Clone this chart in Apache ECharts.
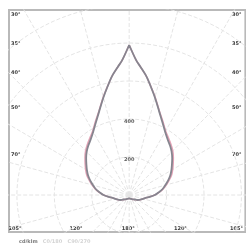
<!DOCTYPE html>
<html>
<head>
<meta charset="utf-8">
<script src="https://cdn.jsdelivr.net/npm/echarts@6/dist/echarts.min.js"></script>
<style>
  html, body { margin: 0; padding: 0; background: #fff; }
  #chart { width: 246px; height: 243px; }
</style>
</head>
<body>
<div id="chart"></div>
<script>
// polar intensity curve, angle from the upward axis (deg) and radius
const angles = [0, 3, 5, 8, 10, 15, 20, 25, 30, 35, 40, 45, 50, 55, 60, 65, 70, 75, 80, 85, 90, 95, 100, 110, 120, 130, 145, 160, 180];
const c0Values = [150, 135, 129, 121, 115, 101, 89, 80, 73, 68, 64.5, 61, 57, 53, 49.5, 46, 42, 38, 34.5, 30, 26, 21, 17, 13, 10, 7, 5, 4, 3.5];
const c90Values = [150, 135, 129, 121, 115, 101.5, 89.5, 81, 74, 69.5, 66, 62.5, 58.5, 54.5, 51, 47.5, 43, 39, 35, 30.5, 26, 21, 17, 13, 10, 7, 5, 4, 3.5];

// grid rings and spokes
const ringRadii = [38, 76, 114, 152, 190, 228, 266, 304];
const ringLabels = ['200', '400'];
const spokeAngles = [0, 15, 30, 45, 60, 75, 90, 105, 120, 135, 150, 165, 180, 195, 210, 225, 240, 255, 270, 285, 300, 315, 330, 345];

// frame tick labels
const sideTickPos = [180, 151, 122, 87, 40];
const sideTickText = ['30°', '35°', '40°', '50°', '70°'];
const bottomTickPos = [-116, -54, -1, 52, 109];
const bottomTickText = ['105°', '120°', '180°', '120°', '105°'];

const rad = d => d * Math.PI / 180;

function curve(values){
    let pts = [];
    for(let i = 0; i < angles.length; i++){
        pts.push([values[i] * Math.sin(rad(angles[i])), values[i] * Math.cos(rad(angles[i]))]);
    }
    for(let i = angles.length - 2; i >= 0; i--){
        pts.push([-values[i] * Math.sin(rad(angles[i])), values[i] * Math.cos(rad(angles[i]))]);
    }
    return pts;
}

function ring(r){
    let pts = [];
    for(let a = 0; a <= 360; a += 3){
        pts.push([r * Math.sin(rad(a)), r * Math.cos(rad(a))]);
    }
    return pts;
}

const gridStyle = {color: '#e4e4e4', width: 1, type: [4, 2]};
let series = [];
ringRadii.forEach(r => {
    series.push({type: 'line', data: ring(r), symbol: 'none', silent: true, lineStyle: gridStyle, z: 1});
});
spokeAngles.forEach(a => {
    series.push({type: 'line', data: [[0, 0], [400 * Math.sin(rad(a)), 400 * Math.cos(rad(a))]], symbol: 'none', silent: true, lineStyle: gridStyle, z: 1});
});
series.push({
    type: 'line', data: curve(c90Values), symbol: 'none', smooth: 0.3,
    lineStyle: {color: '#e3a3b6', width: 1.6}, z: 3
});
series.push({
    type: 'line', data: curve(c0Values), symbol: 'none', smooth: 0.3,
    lineStyle: {color: '#86858f', width: 1.8}, z: 4
});
series.push({
    type: 'scatter', symbolSize: 0, z: 5,
    data: ringLabels.map((t, i) => [0, ringRadii[i]]),
    label: {
        show: true, position: 'inside', offset: [0, 3],
        fontSize: 5, fontWeight: 'bold', color: '#333', fontFamily: 'DejaVu Sans',
        formatter: p => ringLabels[p.dataIndex]
    }
});

const labelStyle = {fontSize: 5, fontWeight: 'bold', color: '#3a3a3a', fontFamily: 'DejaVu Sans'};

let option = {
    animation: false,
    backgroundColor: '#fff',
    title: {
        left: 14, top: 234,
        text: '{a|cd/klm}{b|   C0/180   C90/270}',
        textStyle: {
            rich: {
                a: {fontSize: 5, fontWeight: 'bold', color: '#777', fontFamily: 'DejaVu Sans'},
                b: {fontSize: 5, color: '#d4d4d4', fontFamily: 'DejaVu Sans'}
            }
        }
    },
    grid: {left: 9, right: -3, top: 10, bottom: 11, show: true, borderColor: '#b9b9b9', borderWidth: 2},
    xAxis: {
        type: 'value', min: -122, max: 118,
        axisLine: {show: false}, axisTick: {show: false}, splitLine: {show: false},
        axisLabel: Object.assign({
            inside: true, margin: 1, customValues: bottomTickPos,
            formatter: v => bottomTickText[bottomTickPos.indexOf(v)] || ''
        }, labelStyle)
    },
    yAxis: [{
        type: 'value', min: -37, max: 185, position: 'left',
        axisLine: {show: false}, axisTick: {show: false}, splitLine: {show: false},
        axisLabel: Object.assign({
            inside: true, margin: 2, customValues: sideTickPos,
            formatter: v => sideTickText[sideTickPos.indexOf(v)] || ''
        }, labelStyle)
    }, {
        type: 'value', min: -37, max: 185, position: 'right',
        axisLine: {show: false}, axisTick: {show: false}, splitLine: {show: false},
        axisLabel: Object.assign({
            inside: true, margin: 4, customValues: sideTickPos,
            formatter: v => sideTickText[sideTickPos.indexOf(v)] || ''
        }, labelStyle)
    }],
    series
};

let chart = echarts.init(document.getElementById('chart'));
chart.setOption(option);
</script>
</body>
</html>
